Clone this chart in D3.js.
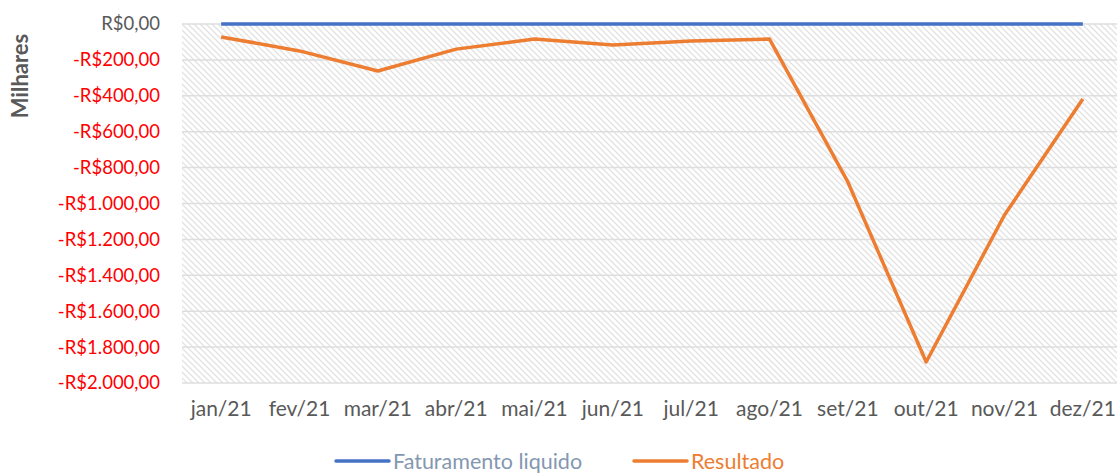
<!DOCTYPE html>
<html>
<head>
<meta charset="utf-8">
<script src="https://cdn.jsdelivr.net/npm/d3@7"></script>
<style>
  body { margin: 0; background: #fff; }
  svg { font-family: Lato, "Open Sans", sans-serif; }
</style>
</head>
<body>
<div class="container"></div>
<script>
// dados
var months = ["jan/21", "fev/21", "mar/21", "abr/21", "mai/21", "jun/21", "jul/21", "ago/21", "set/21", "out/21", "nov/21", "dez/21"];
var faturamento = [0, 0, 0, 0, 0, 0, 0, 0, 0, 0, 0, 0];
var resultado = [-72, -150, -262, -140, -84, -117, -95, -84, -880, -1883, -1064, -418];
var yTicks = [0, -200, -400, -600, -800, -1000, -1200, -1400, -1600, -1800, -2000];

var W = 1117, H = 475;
var margin = {top: 24, right: 0, bottom: 92, left: 182};
var width = W - margin.left - margin.right;
var height = H - margin.top - margin.bottom;

var svg = d3.select(".container").append("svg")
  .attr("width", W).attr("height", H);

// padrão de hachura
var defs = svg.append("defs");
var pat = defs.append("pattern")
  .attr("id", "hatch")
  .attr("patternUnits", "userSpaceOnUse")
  .attr("width", 6).attr("height", 6);
pat.append("path")
  .attr("d", "M-1,-1 L7,7 M-1,5 L1,7 M5,-1 L7,1")
  .attr("stroke", "#e2e2e2")
  .attr("stroke-width", 1.3);

var vis = svg.append("g")
  .attr("transform", "translate(" + margin.left + "," + margin.top + ")");

var x = d3.scaleBand().domain(months).range([0, 940]);
var y = d3.scaleLinear().domain([-2000, 0]).range([height, 0]);

vis.append("rect")
  .attr("width", width).attr("height", height)
  .attr("fill", "url(#hatch)");

// linhas de grade
vis.append("g").selectAll("line")
  .data(yTicks)
  .enter().append("line")
  .attr("x1", 0).attr("x2", width)
  .attr("y1", function(d) { return y(d); })
  .attr("y2", function(d) { return y(d); })
  .attr("stroke", "#dedede")
  .attr("stroke-width", 1.5);

// eixo y
var fmt = function(d) {
  var s = d3.format(",.2f")(Math.abs(d)).replace(/,/g, "#").replace(".", ",").replace(/#/g, ".");
  return (d < 0 ? "-" : "") + "R$" + s;
};
var yAxis = vis.append("g")
  .call(d3.axisLeft(y).tickValues(yTicks).tickFormat(fmt).tickSize(0).tickPadding(22));
yAxis.select(".domain").remove();
yAxis.selectAll("text")
  .attr("font-size", 18.5)
  .attr("font-family", "Lato, 'Open Sans', sans-serif")
  .attr("fill", function(d) { return d < 0 ? "#ff0000" : "#595959"; });

// eixo x
var xAxis = vis.append("g")
  .attr("transform", "translate(0," + height + ")")
  .call(d3.axisBottom(x).tickSize(0).tickPadding(18));
xAxis.select(".domain").remove();
xAxis.selectAll("text")
  .attr("font-size", 21)
  .attr("font-family", "Lato, 'Open Sans', sans-serif")
  .attr("fill", "#595959");

// título do eixo y
svg.append("text")
  .attr("transform", "translate(28,76) rotate(-90)")
  .attr("text-anchor", "middle")
  .attr("font-size", 22)
  .attr("font-weight", "bold")
  .attr("fill", "#595959")
  .text("Milhares");

// séries
var line = d3.line()
  .x(function(d, i) { return x(months[i]) + x.bandwidth() / 2; })
  .y(function(d) { return y(d); });

vis.append("path")
  .datum(faturamento)
  .attr("d", line)
  .attr("fill", "none")
  .attr("stroke", "#4472c4")
  .attr("stroke-width", 3.5);

vis.append("path")
  .datum(resultado)
  .attr("d", line)
  .attr("fill", "none")
  .attr("stroke", "#ed7d31")
  .attr("stroke-width", 3.5)
  .attr("stroke-linejoin", "round");

// legenda
var legendData = [
  {name: "Faturamento liquido", color: "#4472c4", text: "#8497b0", x: 336},
  {name: "Resultado", color: "#ed7d31", text: "#ed7d31", x: 634}
];
var lg = svg.append("g").selectAll("g")
  .data(legendData)
  .enter().append("g")
  .attr("transform", function(d) { return "translate(" + d.x + ",461)"; });
lg.append("line")
  .attr("x1", 0).attr("x2", 53)
  .attr("stroke", function(d) { return d.color; })
  .attr("stroke-width", 3.5)
  .attr("stroke-linecap", "round");
lg.append("text")
  .attr("x", 57).attr("dy", "0.35em")
  .attr("font-size", 21.5)
  .attr("fill", function(d) { return d.text; })
  .text(function(d) { return d.name; });
</script>
</body>
</html>
